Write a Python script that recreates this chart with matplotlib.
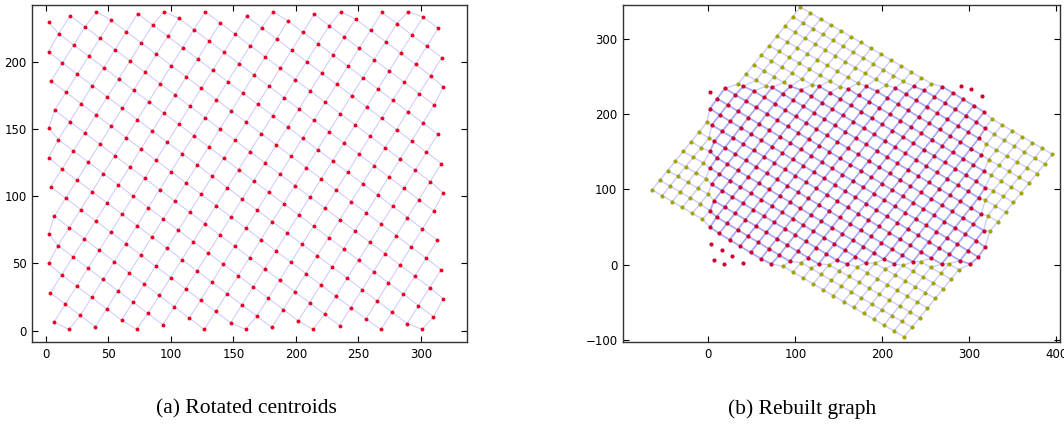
import numpy as np
import matplotlib
matplotlib.use("Agg")
import matplotlib.pyplot as plt

# centroid lattice
red_origin = [21.6, 54.9]
red_step_a = [12.0, -8.42]
red_step_b = [9.07, 13.37]
frame_x = [0.0, 320.0]
frame_y = [0.0, 240.0]

# rebuilt grid
yellow_corner = [-64.6, 99.6]
yellow_step_a = [11.58, -7.82]
yellow_step_b = [8.97, 12.77]
yellow_i = [-7, 18]
yellow_j = [-1, 18]

captions = ["(a) Rotated centroids", "(b) Rebuilt graph"]


def red_pos(i, j):
    x = red_origin[0] + i * red_step_a[0] + j * red_step_b[0]
    y = red_origin[1] + i * red_step_a[1] + j * red_step_b[1]
    return x, y


def yellow_pos(i, j):
    di, dj = i - yellow_i[0], j - yellow_j[0]
    x = yellow_corner[0] + di * yellow_step_a[0] + dj * yellow_step_b[0]
    y = yellow_corner[1] + di * yellow_step_a[1] + dj * yellow_step_b[1]
    return x, y


# red nodes: lattice cells seen inside the camera frame
red = {}
for i in range(-12, 24):
    for j in range(-4, 22):
        x, y = red_pos(i, j)
        if frame_x[0] - 4 <= x <= frame_x[1] + 2 and frame_y[0] - 4 <= y <= frame_y[1] + 2:
            red[(i, j)] = (min(max(x, 2.0), 318.0), min(max(y, 1.0), 237.0))


def node(i, j):
    if (i, j) in red:
        return red[(i, j)]
    return yellow_pos(i, j)


def tidy(ax):
    ax.tick_params(direction="in", top=True, right=True, length=4, width=0.8,
                   labelsize=8.5, pad=4, colors="black")
    for s in ax.spines.values():
        s.set_linewidth(1.0)
        s.set_color("#333333")


fig = plt.figure(figsize=(10.64, 4.32), dpi=100)
ax1 = fig.add_axes([0.0301, 0.2083, 0.4088, 0.780])
ax2 = fig.add_axes([0.5855, 0.2083, 0.4107, 0.780])

# panel (a)
for (i, j), p in red.items():
    for q in [(i + 1, j), (i, j + 1)]:
        if q in red:
            ax1.plot([p[0], red[q][0]], [p[1], red[q][1]], color="#c8c8ff", lw=0.7, zorder=1)
rx = [p[0] for p in red.values()]
ry = [p[1] for p in red.values()]
ax1.plot(rx, ry, "o", color="#f00020", ms=2.8, mew=0, zorder=3)
ax1.set_xlim(-11.2, 337)
ax1.set_ylim(-8.4, 242)
ax1.set_xticks(range(0, 301, 50))
ax1.set_yticks(range(0, 201, 50))
tidy(ax1)

# panel (b)
for i in range(yellow_i[0], yellow_i[1] + 1):
    for j in range(yellow_j[0], yellow_j[1] + 1):
        p = node(i, j)
        for q in [(i + 1, j), (i, j + 1)]:
            if q[0] <= yellow_i[1] and q[1] <= yellow_j[1]:
                r = node(*q)
                inner = (i, j) in red and q in red
                ax2.plot([p[0], r[0]], [p[1], r[1]], color="#7070f0" if inner else "#9a9aff",
                         alpha=0.6 if inner else 0.5, lw=1.3 if inner else 1.0, zorder=1)
yx, yy = [], []
for i in range(yellow_i[0], yellow_i[1] + 1):
    for j in range(yellow_j[0], yellow_j[1] + 1):
        if (i, j) not in red:
            x, y = yellow_pos(i, j)
            yx.append(x)
            yy.append(y)
ax2.plot(yx, yy, "o", color="#a3a600", ms=3.0, mew=0, zorder=2)
ax2.plot(rx, ry, "o", color="#d0002c", ms=3.0, mew=0, zorder=3)
ax2.set_xlim(-98, 404)
ax2.set_ylim(-102.7, 345)
ax2.set_xticks(range(0, 401, 100))
ax2.set_yticks(range(-100, 301, 100))
tidy(ax2)

fig.text(0.232, 0.053, captions[0], ha="center", va="center", family="Liberation Serif", fontsize=15.5)
fig.text(0.754, 0.053, captions[1], ha="center", va="center", family="Liberation Serif", fontsize=15.5)

fig.savefig("out.png", dpi=100, facecolor="white")
